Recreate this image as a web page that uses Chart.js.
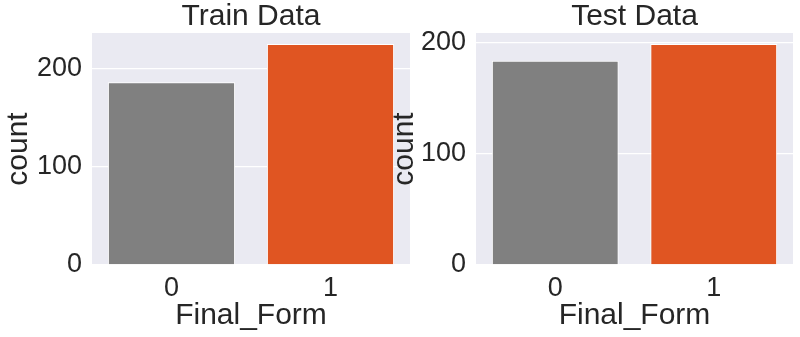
<!DOCTYPE html>
<html>
<head>
<meta charset="utf-8">
<script src="https://cdn.jsdelivr.net/npm/chart.js@4"></script>
<style>
  html, body { margin: 0; padding: 0; background: #ffffff; }
  body { width: 800px; height: 337px; position: relative; overflow: hidden; }
  .box { position: absolute; top: 0; height: 337px; }
  #leftBox { left: 0; width: 410px; }
  #rightBox { left: 386px; width: 414px; }
</style>
</head>
<body>
<div class="box" id="leftBox"><canvas id="trainChart"></canvas></div>
<div class="box" id="rightBox"><canvas id="testChart"></canvas></div>
<script>
const categories = ["0", "1"];
const trainCounts = [186, 225];
const testCounts = [184, 199];
const barColors = ["#808080", "#e05522"];
const yTicks = [0, 100, 200];

const FONT = "'Liberation Sans', Arial, sans-serif";
const TEXT = "#262626";

const bgPlugin = {
  id: 'plotBg',
  beforeDraw(chart) {
    const a = chart.chartArea, c = chart.ctx;
    c.save();
    c.fillStyle = '#eaeaf2';
    c.fillRect(a.left, a.top, a.right - a.left, a.bottom - a.top);
    c.restore();
  }
};

function makeChart(id, title, values, yWidth, rightPad) {
  const ymax = Math.max(...values) * 1.05;
  return new Chart(document.getElementById(id), {
    type: 'bar',
    data: {
      labels: categories,
      datasets: [{
        data: values,
        backgroundColor: barColors,
        borderColor: '#ffffff',
        borderWidth: 1,
        barPercentage: 0.8,
        categoryPercentage: 1.0
      }]
    },
    options: {
      responsive: true,
      maintainAspectRatio: false,
      animation: false,
      layout: { padding: { left: 0, right: rightPad, top: 0, bottom: 0 } },
      plugins: {
        legend: { display: false },
        tooltip: { enabled: false },
        title: {
          display: true,
          fullSize: false,
          text: title,
          color: TEXT,
          font: { family: FONT, size: 30, weight: 'normal', lineHeight: 1.1 },
          padding: { top: 0, bottom: 0 }
        }
      },
      scales: {
        x: {
          grid: { display: false, drawTicks: false },
          border: { display: false },
          ticks: { color: TEXT, font: { family: FONT, size: 27 }, padding: 7 },
          title: { display: true, text: 'Final_Form', color: TEXT,
                   font: { family: FONT, size: 30 }, padding: { top: 0, bottom: 3 } },
          afterFit(scale) { scale.height = 72; }
        },
        y: {
          min: 0,
          max: ymax,
          afterBuildTicks(scale) { scale.ticks = yTicks.map(v => ({ value: v })); },
          grid: { color: '#ffffff', lineWidth: 1.3, drawTicks: false },
          border: { display: false },
          ticks: { color: TEXT, font: { family: FONT, size: 27 }, padding: 10 },
          title: { display: true, text: 'count', color: TEXT,
                   font: { family: FONT, size: 30 }, padding: { top: 1, bottom: 0 } },
          afterFit(scale) { scale.width = yWidth; }
        }
      }
    },
    plugins: [bgPlugin]
  });
}

makeChart('trainChart', 'Train Data', trainCounts, 92, 0);
makeChart('testChart', 'Test Data', testCounts, 90, 7);
</script>
</body>
</html>
